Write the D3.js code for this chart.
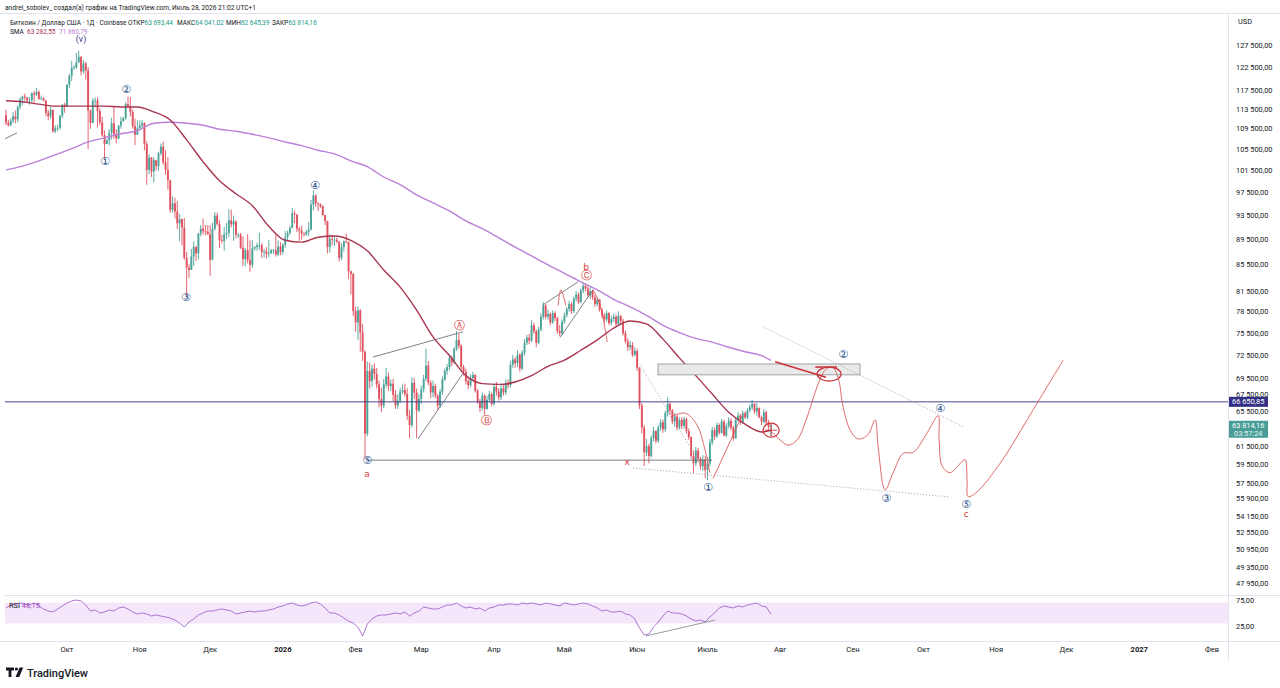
<!DOCTYPE html>
<html>
<head>
<meta charset="utf-8">
<script src="https://cdn.jsdelivr.net/npm/d3@7"></script>
<style>
  body { margin: 0; background: #fff; }
  svg { display: block; font-family: Roboto, 'Noto Sans', sans-serif; }
</style>
</head>
<body>
<div id="chart-area"></div>
<script>
//daily candles from 5 Sep 2025, prices in thousands of USD (open = previous close)
const firstDay = new Date(2025, 8, 5);
const firstOpen = 112.2;
let closes = [
  110.7,110.2,111.1,112.0,111.4,113.9,115.5,116.1,115.9,115.3,115.3,116.8,116.5,117.1,115.6,115.7,115.2,112.7,112.0,113.3,109.0,109.6,109.7,112.1,114.4,114.0,
  118.6,120.6,122.3,122.4,123.5,124.8,121.5,123.3,121.7,113.2,110.7,115.2,115.3,113.1,110.8,108.2,106.5,107.2,108.7,110.6,108.4,107.6,110.1,111.0,111.6,114.5,114.1,112.9,110.0,108.3,109.6,
  110.1,110.6,106.5,101.6,103.9,101.3,103.4,102.3,104.7,106.0,103.0,101.6,99.7,94.5,95.6,94.2,92.2,92.9,91.5,86.6,85.1,84.7,86.8,88.3,87.3,90.5,91.3,90.9,90.8,90.4,
  86.3,91.3,93.5,92.1,89.4,89.3,90.4,90.6,92.7,92.0,92.5,90.3,90.3,88.2,86.4,87.8,86.2,85.5,88.1,88.3,88.6,88.6,87.5,87.6,87.2,87.3,87.8,87.8,87.1,88.4,87.5,
  88.7,89.9,90.6,91.4,93.9,93.7,91.3,91.0,90.5,90.4,90.8,91.2,95.4,97.0,95.6,95.5,95.1,93.6,92.6,88.3,89.6,89.5,89.5,89.2,86.6,88.3,89.2,89.1,84.5,84.1,78.6,
  77.0,78.7,75.6,73.0,62.9,70.5,69.2,70.8,70.1,68.8,67.0,66.2,68.8,69.8,68.6,68.9,67.5,66.2,66.8,67.9,68.1,67.6,65.0,63.9,69.0,67.8,65.6,67.0,
  68.2,69.5,71.2,69.0,67.8,68.6,67.4,66.2,67.9,69.4,70.5,71.0,72.2,71.6,73.4,74.6,73.8,71.0,70.4,69.2,68.7,69.6,70.0,68.0,66.7,65.9,67.4,65.8,66.9,67.6,66.4,
  68.5,67.9,67.2,68.3,67.8,69.0,68.7,71.3,72.0,71.5,72.6,70.8,72.9,74.2,74.9,74.5,76.6,75.8,74.2,76.0,77.8,79.4,77.8,78.2,77.0,78.3,77.6,75.8,75.5,77.1,
  78.0,78.9,79.6,78.6,80.4,81.0,79.9,81.6,82.3,81.9,80.9,81.5,80.6,79.6,80.3,78.8,78.0,77.4,78.3,76.9,77.5,77.8,76.8,77.9,77.2,75.5,74.4,73.6,73.9,72.6,73.1,
  70.9,66.2,63.6,60.8,61.5,60.4,62.4,63.2,62.1,63.6,64.2,63.4,65.3,66.4,65.6,64.3,64.9,63.6,64.5,63.8,64.6,63.2,62.5,60.4,59.6,61.0,60.1,59.3,60.0,58.9,
  59.6,61.9,63.3,62.6,63.9,63.0,64.3,62.7,63.8,64.4,63.6,62.4,64.5,65.0,64.2,65.3,64.8,65.6,66.0,66.4,65.5,65.9,64.8,64.3,65.4,64.2,63.69344,63.81416,
];
let highs = [
  113.4,111.3,111.6,112.9,113.2,114.3,115.9,116.3,116.7,116.0,116.0,117.0,117.3,117.9,117.4,116.3,116.0,115.4,113.3,113.9,113.4,110.2,110.3,112.3,114.5,114.8,
  118.7,120.9,123.9,122.9,125.7,126.2,124.9,124.0,123.7,122.5,113.4,115.8,115.9,115.9,113.6,111.9,109.2,107.5,109.4,111.7,114.0,109.4,110.3,111.9,111.9,114.9,116.1,116.0,113.4,111.5,111.2,
  111.2,111.2,110.8,107.0,104.5,104.0,104.0,103.5,105.0,106.6,107.0,105.3,104.0,99.8,96.8,96.6,96.0,93.8,93.0,93.1,87.5,85.6,88.0,89.2,88.5,90.6,91.9,93.0,91.9,91.9,
  91.9,92.3,94.1,94.0,92.7,90.3,91.6,92.3,94.6,94.5,93.5,92.7,90.6,90.6,90.0,88.2,90.4,89.5,89.4,88.5,89.0,90.6,88.9,88.0,88.3,89.5,88.0,88.0,90.3,89.4,89.1,
  88.9,90.9,91.0,91.8,94.8,94.4,93.6,91.6,91.8,90.7,91.1,92.4,96.2,97.9,97.2,95.8,95.6,95.3,93.3,92.6,90.4,90.3,90.1,89.8,89.2,88.9,89.4,90.5,89.2,84.6,84.2,
  79.2,79.3,78.9,76.8,73.2,71.7,71.6,71.3,71.5,70.9,69.3,68.4,69.5,70.9,70.3,69.4,69.5,68.1,67.6,68.4,68.8,68.9,68.3,65.7,69.7,69.6,68.3,67.6,
  68.6,70.0,73.4,71.8,69.3,69.3,68.9,67.6,68.2,69.8,70.8,71.4,72.6,72.5,73.6,75.8,75.4,74.0,71.3,70.8,69.5,70.1,70.4,70.1,68.2,67.0,67.8,67.6,67.4,68.0,67.8,
  68.9,69.1,68.3,68.7,68.7,69.4,69.4,71.8,72.6,72.3,73.2,72.8,73.2,74.7,75.3,75.4,77.3,77.0,76.0,76.4,78.3,79.9,79.6,78.8,78.4,78.7,78.6,77.8,76.6,77.4,
  78.4,79.2,80.1,79.9,80.7,81.5,81.3,81.9,82.8,82.6,82.3,82.2,81.7,80.9,80.6,80.3,79.0,78.3,78.7,78.5,77.9,78.2,78.1,78.6,78.1,77.5,75.9,74.8,74.5,74.3,73.6,
  73.4,71.0,66.5,63.9,62.3,61.8,62.7,63.7,63.3,63.9,64.6,64.5,65.6,67.2,66.6,65.8,65.3,65.1,64.8,64.8,64.9,64.8,63.5,62.6,61.0,61.4,61.3,60.3,60.5,60.4,
  60.3,62.3,63.7,63.6,64.2,64.1,64.6,64.5,64.1,64.8,64.7,63.8,64.8,65.4,65.2,65.6,65.5,65.9,66.3,66.9,66.5,66.5,66.0,65.0,65.8,65.6,64.5,64.04102,
];
let lows = [
  110.2,109.9,110.0,110.6,110.6,110.8,113.4,114.3,115.2,114.8,114.4,114.8,114.8,116.2,115.4,115.4,115.1,112.0,111.2,111.5,108.7,108.6,109.0,109.3,111.6,112.7,
  113.9,117.9,119.4,121.9,122.1,123.9,120.6,121.0,119.7,105.5,109.5,110.6,113.8,109.8,110.2,107.9,103.6,106.5,106.2,107.4,107.5,106.6,107.4,109.5,110.9,111.3,113.8,112.0,109.5,106.3,108.4,
  109.4,109.5,105.3,98.9,100.8,100.3,99.3,101.5,101.5,104.3,102.6,100.7,98.0,94.0,94.0,93.0,91.2,89.3,88.6,86.3,80.6,83.5,84.7,85.3,86.1,86.3,90.0,90.3,90.2,90.3,
  83.8,86.2,91.0,91.8,88.2,88.9,87.7,89.6,89.9,91.5,89.3,89.7,89.8,88.0,85.3,85.3,85.7,84.4,85.0,87.8,87.7,87.9,86.6,86.6,86.5,86.7,87.3,87.2,86.8,86.9,87.0,
  87.1,88.2,89.4,90.3,91.4,92.2,90.7,89.3,89.5,90.0,90.1,90.1,91.0,94.4,95.0,94.3,94.8,93.4,91.9,87.3,87.4,88.6,88.5,88.9,86.0,86.2,87.6,88.9,83.3,81.0,77.9,
  75.7,74.6,73.0,71.8,60.1,62.6,68.3,68.5,69.4,68.3,66.0,65.4,65.9,68.4,68.0,68.0,66.7,65.8,65.8,66.5,67.6,67.3,64.5,62.4,63.6,67.0,62.4,65.4,
  66.4,67.8,69.2,68.7,67.1,67.2,67.1,65.7,65.9,67.5,69.2,70.0,70.6,71.1,71.4,73.1,73.4,70.7,69.9,68.8,68.2,68.4,69.3,67.8,66.4,65.4,65.6,65.1,65.7,66.6,66.1,
  66.2,67.4,66.8,66.9,67.4,67.5,68.3,68.4,70.9,70.9,71.0,70.4,70.6,72.5,73.9,74.0,74.3,75.4,73.6,74.0,75.8,77.4,77.5,77.4,76.6,76.8,77.2,75.4,75.1,75.3,
  76.8,77.7,78.5,78.2,78.3,80.0,79.6,79.7,81.2,81.5,80.7,80.4,80.2,79.2,79.3,78.5,77.6,76.9,77.1,76.6,76.6,77.1,76.5,76.5,76.9,75.2,74.1,73.1,73.2,72.3,72.4,
  70.5,65.8,62.9,59.3,60.4,59.6,60.2,62.0,61.8,61.9,63.2,63.0,63.1,64.9,65.1,64.0,63.7,63.3,63.4,63.4,63.5,62.9,62.2,60.1,58.5,59.3,59.7,58.9,58.8,58.0,
  57.8,59.3,61.6,62.2,62.4,62.8,62.9,62.6,62.5,63.5,63.3,62.1,62.3,64.3,63.9,64.0,64.6,64.6,65.4,65.7,65.2,65.0,64.7,63.9,64.1,64.0,63.2,62.64539,
];

//moving averages read every 7th day (plus the last day)
let maStep = 7;
let maFast = [115.2,115.0,114.5,114.1,114.1,114.1,114.1,113.9,113.9,112.9,111.25,107.3,103.1,99.6,97.3,95.2,91.7,89.4,89.1,89.9,90.1,89.4,87.7,84.7,82.1,78.75,75.0,72.5,69.9,68.9,68.8,69.1,69.9,71.1,71.9,73.2,74.6,76.2,77.2,76.8,74.7,72.2,69.9,67.6,65.4,64.0,63.1,63.28255];
let maSlow = [101.6,102.3,103.3,104.4,105.6,106.9,107.7,108.5,109.1,110.6,110.8,110.6,110.2,109.4,109.0,108.4,107.7,106.9,106.2,105.3,104.6,103.3,102.2,100.3,98.9,97.1,95.7,94.3,92.6,91.3,89.8,88.3,86.9,85.5,84.2,82.9,81.7,80.3,79.2,78.0,76.6,75.6,74.8,74.3,73.6,73.0,72.5,71.86079];

//RSI read every 2nd day
let rsiStep = 2;
let rsiValues = [
  59.6,65.4,67.3,69.2,67.3,65.4,69.2,63.5,57.7,53.8,51.9,57.7,63.5,69.2,73.1,75.0,73.1,65.4,53.8,55.8,
  50.0,51.9,55.8,53.8,59.6,61.5,57.7,51.9,48.1,50.0,48.1,44.2,46.2,44.2,42.3,40.4,36.5,30.8,23.1,32.7,
  38.5,46.2,50.0,53.8,53.8,55.8,57.7,55.8,53.8,48.1,50.0,51.9,53.8,51.9,53.8,53.8,55.8,57.7,61.5,63.5,
  67.3,69.2,65.4,63.5,65.4,69.2,71.2,67.3,59.6,50.0,50.0,46.2,40.4,34.6,30.8,23.1,5.8,28.8,38.5,44.2,
  46.2,46.2,48.1,50.0,48.1,51.9,44.2,50.0,53.8,61.5,59.6,57.7,57.7,61.5,65.4,65.4,69.2,63.5,59.6,61.5,
  57.7,59.6,53.8,59.6,61.5,65.4,65.4,67.3,67.3,65.4,69.2,67.3,69.2,67.3,65.4,69.2,67.3,65.4,63.5,69.2,
  67.3,65.4,67.3,69.2,67.3,63.5,59.6,53.8,55.8,51.9,51.9,53.8,48.1,46.2,38.5,21.2,7.7,9.6,23.1,32.7,
  44.2,53.8,50.0,50.0,48.1,44.2,38.5,34.6,36.5,32.7,42.3,50.0,59.6,63.5,61.5,59.6,63.5,61.5,65.4,67.3,
  69.2,63.5,61.5,48.15,
];

//axis labels
let priceTicks = [127.5,122.5,117.5,113.5,109.5,105.5,101.5,97.5,93.5,89.5,85.5,81.5,78.5,75.5,72.5,69.5,67.5,65.5,61.5,59.5,57.5,55.9,54.15,52.55,50.95,49.35,47.95];
let rsiTicks = [75, 25];
let monthLabels = ['Окт','Ноя','Дек','2026','Фев','Мар','Апр','Май','Июн','Июль','Авг','Сен','Окт','Ноя','Дек','2027','Фев'];
let levelPrice = 66.65085;

//drawings, points as [day from first candle, price]
let blueLabels = [['①',42.2,103.1],['②',51.2,117.5],['③',76.7,80.6],['④',131.7,98.7],['⑤',153.9,59.9],['①',299.2,57.0],['②',356.8,72.6],['③',375.1,55.96],['④',398.1,65.9],['⑤',409.2,55.26]];
let redLabels = [['a',153.9,58.5],['Ⓐ',193.1,76.6],['Ⓑ',205,64.4],['Ⓒ',247.2,83.8],['b',247.2,85.2],['x',264.7,59.8],['c',409.2,54.36]];
let greyLines = [
  [[-0.4,107.5],[4.7,108.7]],
  [[156.4,72.3],[194.8,75.7]],
  [[175.6,62.3],[194.8,70.2]],
  [[153.9,59.95],[300.9,59.95]],
  [[228.9,79.5],[243.8,82.9]],
  [[236.1,74.9],[250.2,81.7]],
];
let dottedLines = [
  [[270.2,71.3],[299.2,58.2]],
  [[267.3,59.1],[402.4,56.06]],
  [[322.7,76.4],[407.9,63.7]],
];
let zoneBox = [[277.9,71.4],[364.0,70.0]];
let redThin = [
  [[235.3,79.4],[236.5,81.7],[238.6,79.4]],
  [[250.2,81.7],[253.2,79.5],[256.2,74.3]],
  [[283.0,64.8],[289.4,65.3],[294.5,63.9],[297.9,61.1],[300.0,58.6]],
  [[301.4,58.0],[313.7,65.0]],
  [[325.7,63.3],[329.9,62.2],[333.3,61.6],[337.2,62.2],[341.4,64.8],[345.7,68.5],[349.1,70.6],[352.1,71.0],[354.6,69.7],[356.8,66.0],[359.8,63.3],[363.2,62.3],[367.4,62.8],[370.4,64.5],[371.7,61.4],[374.7,56.8],[378.1,58.6],[382.4,60.7],[386.6,60.8],[392.6,63.0],[397.3,65.0],[397.7,62.2],[399.0,59.3],[402.4,58.6],[406.7,59.6],[408.8,60.0],[409.6,57.8],[410.1,56.1],[413.9,56.6],[423.7,59.6],[435.2,64.5],[443.7,68.5],[450.6,71.9]],
];
let redThick = [
  [[327.8,71.7],[349.5,69.7]],
  [[344.9,71.0],[354.2,71.0]],
];
let redEllipses = [[350.8,70.1],[326.1,63.3]];
let rsiTrend = [[272.8,5.8],[302.2,36.5]];

let width = 1280;
let height = 688;
let pane = { left: 5, right: 1228, top: 14, bottom: 595, rsiBottom: 641 };
let colors = { up: '#4ca39a', down: '#e0525f', maFast: '#a8364f', maSlow: '#bb80d8', blue: '#234f8c', red: '#d63b3b', grey: '#5d606b', level: '#332f86', teal: '#22998a' };

let svg = d3.select('#chart-area').append('svg').attr('width', width).attr('height', height);
svg.append('rect').attr('width', width).attr('height', height).attr('fill', '#fff');

let x = d3.scaleTime().domain([new Date(2025, 9, 1), new Date(2027, 1, 1)]).range([67, 1212]);
let y = d3.scaleLog().domain([47.95, 127.5]).range([583, 45]);
let yRsi = d3.scaleLinear().domain([25, 75]).range([626, 600]);
let dayToDate = (d) => new Date(firstDay.getTime() + d * 864e5);
let px = (d) => x(dayToDate(d));

let ru = d3.formatLocale({ decimal: ',', thousands: '\u00a0', grouping: [3], currency: ['', ''] });
let fmtPrice = (k) => ru.format(',.2f')(k * 1000);
let fmt2 = ru.format('.2f');

svg.append('defs').append('clipPath').attr('id', 'clip')
  .append('rect').attr('x', pane.left).attr('y', pane.top)
  .attr('width', pane.right - pane.left).attr('height', pane.rsiBottom - pane.top);

//frame lines
let frame = svg.append('g').attr('stroke', '#e0e3eb').attr('stroke-width', 1);
frame.append('line').attr('x1', 0).attr('x2', width).attr('y1', pane.top - 0.5).attr('y2', pane.top - 0.5);
frame.append('line').attr('x1', pane.left).attr('x2', width).attr('y1', pane.bottom + 0.5).attr('y2', pane.bottom + 0.5);
frame.append('line').attr('x1', 0).attr('x2', width).attr('y1', pane.rsiBottom + 0.5).attr('y2', pane.rsiBottom + 0.5);
frame.append('line').attr('x1', pane.right + 0.5).attr('x2', pane.right + 0.5).attr('y1', pane.top).attr('y2', pane.rsiBottom + 20);

let plot = svg.append('g').attr('clip-path', 'url(#clip)');

//RSI band first so the line sits on top of it
plot.append('rect')
  .attr('x', pane.left).attr('width', pane.right - pane.left)
  .attr('y', yRsi(70)).attr('height', yRsi(30) - yRsi(70))
  .attr('fill', '#f4e7fb');

//candles
let candles = closes.map((c, i) => {
  let o = i ? closes[i - 1] : firstOpen;
  return { date: dayToDate(i), o: o, c: c, h: Math.max(highs[i], o, c), l: Math.min(lows[i], o, c) };
});
let candleG = plot.append('g').selectAll('g').data(candles).enter().append('g')
  .attr('fill', (d) => (d.c >= d.o ? colors.up : colors.down))
  .attr('stroke', (d) => (d.c >= d.o ? colors.up : colors.down));
candleG.append('line')
  .attr('x1', (d) => x(d.date)).attr('x2', (d) => x(d.date))
  .attr('y1', (d) => y(d.h)).attr('y2', (d) => y(d.l))
  .attr('stroke-width', 0.9);
candleG.append('rect')
  .attr('stroke', 'none')
  .attr('x', (d) => x(d.date) - 0.95).attr('width', 1.9)
  .attr('y', (d) => y(Math.max(d.o, d.c)))
  .attr('height', (d) => Math.max(0.8, Math.abs(y(d.o) - y(d.c))));

//moving averages
let maDays = d3.range(0, closes.length, maStep);
maDays.push(closes.length - 1);
let maLine = d3.line().x((d) => px(d[0])).y((d) => y(d[1])).curve(d3.curveMonotoneX);
plot.append('path').datum(maDays.map((d, i) => [d, maSlow[i]]))
  .attr('d', maLine).attr('fill', 'none').attr('stroke', colors.maSlow).attr('stroke-width', 1.4);
plot.append('path').datum(maDays.map((d, i) => [d, maFast[i]]))
  .attr('d', maLine).attr('fill', 'none').attr('stroke', colors.maFast).attr('stroke-width', 1.4);

//drawings
let seg = d3.line().x((d) => px(d[0])).y((d) => y(d[1]));
let smooth = d3.line().x((d) => px(d[0])).y((d) => y(d[1])).curve(d3.curveCatmullRom.alpha(0.5));

plot.append('rect')
  .attr('x', px(zoneBox[0][0])).attr('y', y(zoneBox[0][1]))
  .attr('width', px(zoneBox[1][0]) - px(zoneBox[0][0]))
  .attr('height', y(zoneBox[1][1]) - y(zoneBox[0][1]))
  .attr('fill', '#e9e9ea').attr('stroke', '#8a8d95').attr('stroke-width', 0.8);

plot.append('line')
  .attr('x1', pane.left).attr('x2', pane.right)
  .attr('y1', y(levelPrice)).attr('y2', y(levelPrice))
  .attr('stroke', colors.level).attr('stroke-width', 0.9);

plot.append('g').selectAll('path').data(greyLines).enter().append('path')
  .attr('d', seg).attr('fill', 'none').attr('stroke', colors.grey).attr('stroke-width', 0.8);
plot.append('g').selectAll('path').data(dottedLines).enter().append('path')
  .attr('d', seg).attr('fill', 'none').attr('stroke', '#a9acb5').attr('stroke-width', 0.9)
  .attr('stroke-dasharray', '1.2,1.8');
plot.append('g').selectAll('path').data(redThin).enter().append('path')
  .attr('d', smooth).attr('fill', 'none').attr('stroke', '#dc5a5a').attr('stroke-width', 0.9);
plot.append('g').selectAll('path').data(redThick).enter().append('path')
  .attr('d', seg).attr('fill', 'none').attr('stroke', '#c8333b').attr('stroke-width', 1.5);

let ell = plot.append('g').attr('fill', 'none').attr('stroke', '#c8333b').attr('stroke-width', 1.2);
ell.append('ellipse').attr('cx', px(redEllipses[0][0])).attr('cy', y(redEllipses[0][1])).attr('rx', 12).attr('ry', 7);
ell.append('ellipse').attr('cx', px(redEllipses[1][0])).attr('cy', y(redEllipses[1][1])).attr('rx', 8).attr('ry', 7);
ell.append('path')
  .attr('d', `M${px(redEllipses[1][0]) - 6},${y(redEllipses[1][1])}h12M${px(redEllipses[1][0])},${y(redEllipses[1][1]) - 6}v12`)
  .attr('stroke-width', 0.9);

//RSI line
plot.append('path').datum(d3.range(0, closes.length, rsiStep).map((d, i) => [d, rsiValues[i]]))
  .attr('d', d3.line().x((d) => px(d[0])).y((d) => yRsi(d[1])))
  .attr('fill', 'none').attr('stroke', '#a564c9').attr('stroke-width', 0.9);
plot.append('path').datum(rsiTrend)
  .attr('d', d3.line().x((d) => px(d[0])).y((d) => yRsi(d[1])))
  .attr('fill', 'none').attr('stroke', '#8b8e96').attr('stroke-width', 0.9);
let rsiLabel = svg.append('text').attr('x', 9).attr('y', 608).style('font-size', '7.4px');
rsiLabel.append('tspan').attr('fill', '#131722').text('RSI ');
rsiLabel.append('tspan').attr('fill', '#9c3fc0').text(fmt2(rsiValues[rsiValues.length - 1]));

//wave labels
let labelG = svg.append('g').attr('text-anchor', 'middle').attr('dominant-baseline', 'central');
labelG.append('text').attr('x', px(32)).attr('y', y(128.9)).text('(v)')
  .attr('fill', '#3e3a8c').style('font-size', '9px');
labelG.selectAll('.wb').data(blueLabels).enter().append('text').attr('class', 'wb')
  .attr('x', (d) => px(d[1])).attr('y', (d) => y(d[2])).text((d) => d[0])
  .attr('fill', colors.blue).style('font-family', 'DejaVu Sans').style('font-size', '11px');
labelG.selectAll('.wr').data(redLabels).enter().append('text').attr('class', 'wr')
  .attr('x', (d) => px(d[1])).attr('y', (d) => y(d[2])).text((d) => d[0])
  .attr('fill', colors.red).style('font-family', 'DejaVu Sans')
  .style('font-size', (d) => (d[0] < 'z' ? '9px' : '11px'));

//price axis
let axisG = svg.append('g').style('font-size', '7.4px').attr('fill', '#131722');
axisG.append('text').attr('x', 1238).attr('y', 24).text('USD');
axisG.selectAll('.pt').data(priceTicks).enter().append('text').attr('class', 'pt')
  .attr('x', 1236).attr('y', (d) => y(d) + 2.6).text(fmtPrice);
axisG.selectAll('.rt').data(rsiTicks).enter().append('text').attr('class', 'rt')
  .attr('x', 1236).attr('y', (d) => yRsi(d) + 2.6).text(fmt2);

//level and last price labels
svg.append('rect').attr('x', 1229).attr('y', y(levelPrice) - 5).attr('width', 39).attr('height', 10).attr('fill', colors.level);
svg.append('text').attr('x', 1232).attr('y', y(levelPrice) + 2.6).attr('fill', '#fff').style('font-size', '7.4px').text(fmtPrice(levelPrice));
let last = candles[candles.length - 1];
svg.append('rect').attr('x', 1229).attr('y', y(last.c) - 5).attr('width', 39).attr('height', 17).attr('fill', '#4a9e97');
svg.append('text').attr('x', 1232).attr('y', y(last.c) + 2.6).attr('fill', '#fff').style('font-size', '7.4px').text(fmtPrice(last.c));
svg.append('text').attr('x', 1234).attr('y', y(last.c) + 10).attr('fill', '#e6f4f2').style('font-size', '7.4px').text('03:57:24');

//time axis
let months = d3.timeMonth.range(new Date(2025, 9, 1), new Date(2027, 2, 1));
svg.append('g').selectAll('text').data(months).enter().append('text')
  .attr('x', (d) => x(d)).attr('y', 652).attr('text-anchor', 'middle')
  .attr('fill', '#131722').style('font-size', '7.6px')
  .style('font-weight', (d, i) => (+monthLabels[i] ? 700 : 400))
  .text((d, i) => monthLabels[i]);

//header
svg.append('text').attr('x', 5).attr('y', 10).attr('fill', '#131722').style('font-size', '7.4px')
  .attr('textLength', 251).attr('lengthAdjust', 'spacingAndGlyphs')
  .text('andrei_sobolev_ создал(а) график на TradingView.com, Июль 28, 2026 21:02 UTC+1');
let headParts = [
  [10, 'Биткоин / Доллар США · 1Д · Coinbase', null],
  [128, 'ОТКР', fmtPrice(last.o)],
  [177, 'МАКС', fmtPrice(last.h)],
  [226, 'МИН', fmtPrice(last.l)],
  [272, 'ЗАКР', fmtPrice(last.c)],
];
headParts.forEach((d) => {
  let t = svg.append('text').attr('x', d[0]).attr('y', 25).attr('fill', '#131722').style('font-size', '6.5px');
  t.append('tspan').text(d[1]);
  if (d[2]) t.append('tspan').attr('fill', colors.teal).text(d[2]);
});
let maParts = [
  [10, 'SMA', '#131722'],
  [27, fmtPrice(maFast[maFast.length - 1]), colors.maFast],
  [59, fmtPrice(maSlow[maSlow.length - 1]), colors.maSlow],
];
svg.append('g').selectAll('text').data(maParts).enter().append('text')
  .attr('x', (d) => d[0]).attr('y', 34).attr('fill', (d) => d[2]).style('font-size', '6.5px')
  .text((d) => d[1]);

//logo
let logo = svg.append('g').attr('fill', '#131722');
logo.append('path').attr('d', 'M6,667.5h8v3h-2.6v6.5h-2.8v-6.5h-2.6z');
logo.append('circle').attr('cx', 16.4).attr('cy', 669).attr('r', 1.6);
logo.append('path').attr('d', 'M19.6,667.5h3.6l-4,9.5h-3.6z');
svg.append('text').attr('x', 27).attr('y', 676.5).attr('fill', '#131722')
  .attr('textLength', 61).attr('lengthAdjust', 'spacingAndGlyphs')
  .style('font-size', '11.5px').style('font-weight', 500).text('TradingView');
</script>
</body>
</html>
